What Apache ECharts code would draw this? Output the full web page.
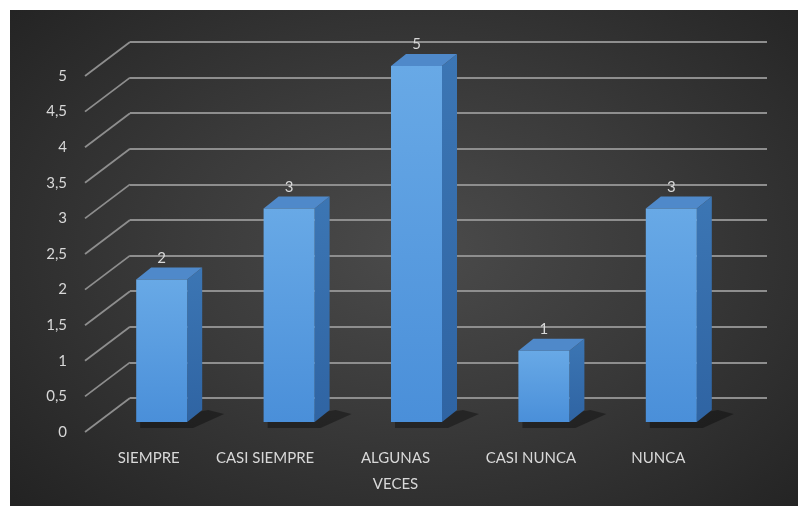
<!DOCTYPE html>
<html>
<head>
<meta charset="utf-8">
<script src="https://cdn.jsdelivr.net/npm/echarts@6/dist/echarts.min.js"></script>
<style>
html,body{margin:0;padding:0;background:#fff;width:798px;height:506px;overflow:hidden;}
#c{position:absolute;left:10px;top:10px;width:788px;height:496px;
background:radial-gradient(ellipse 70% 75% at 52% 48%, #4b4b4b 0%, #3a3a3a 45%, #232323 100%);}
</style>
</head>
<body>
<div id="c"></div>
<script>
const categories = ['SIEMPRE', 'CASI SIEMPRE', 'ALGUNAS\nVECES', 'CASI NUNCA', 'NUNCA'];
const values = [2, 3, 5, 1, 3];
const tickValues = [0, 0.5, 1, 1.5, 2, 2.5, 3, 3.5, 4, 4.5, 5];
const labelShift = [0, 22, 16, 0, 0];

const chart = echarts.init(document.getElementById('c'), null, {renderer: 'canvas'});
const FONT = 'Lato, "Open Sans", sans-serif';
const DX = -45, DY = 34;        // floor depth (back wall -> front edge)
const FX = -32, FY = 24;        // bar front plane offset from back wall
const SX = 15, SY = -12;        // bar depth
const BW = 51;                  // bar width

const frontGrad = new echarts.graphic.LinearGradient(0, 0, 0, 1, [
  {offset: 0, color: '#68a9e6'}, {offset: 1, color: '#4a8fd9'}]);
const sideGrad = new echarts.graphic.LinearGradient(0, 0, 0, 1, [
  {offset: 0, color: '#3c76b4'}, {offset: 1, color: '#2f64a3'}]);

chart.setOption({
  animation: false,
  grid: [
    {left: 120, top: 32, width: 637, height: 356},
    {left: 75, top: 66, width: 637, height: 356}
  ],
  xAxis: [
    {type: 'category', gridIndex: 0, data: categories, show: false},
    {type: 'category', gridIndex: 1,
     data: categories.map((c, i) => ({value: c, textStyle: {padding: [0, labelShift[i], 0, 0]}})),
     axisLine: {show: false}, axisTick: {show: false},
     axisLabel: {color: '#d8d8d8', fontSize: 15, fontFamily: FONT, margin: 13, lineHeight: 26, interval: 0}}
  ],
  yAxis: [
    {type: 'value', gridIndex: 0, min: 0, max: 5, interval: 0.5,
     axisLabel: {show: false}, axisLine: {show: false}, axisTick: {show: false},
     splitLine: {lineStyle: {color: '#8e8e8e', width: 1.8}}},
    {type: 'value', gridIndex: 1, min: 0, max: 5, interval: 0.5,
     axisLine: {show: false}, axisTick: {show: false}, splitLine: {show: false},
     axisLabel: {color: '#d8d8d8', fontSize: 15, fontFamily: FONT, margin: 18,
       formatter: v => String(v).replace('.', ',')}}
  ],
  series: [
    {
      type: 'custom', xAxisIndex: 0, yAxisIndex: 0, z: 1,
      data: tickValues.map(v => [0, v]),
      renderItem: function (params, api) {
        const y = api.coord([0, api.value(1)])[1];
        const x0 = params.coordSys.x;
        return {type: 'line', shape: {x1: x0, y1: y, x2: x0 + DX, y2: y + DY},
          style: {stroke: '#8e8e8e', lineWidth: 1.8}};
      }
    },
    {
      type: 'custom', xAxisIndex: 0, yAxisIndex: 0, z: 5,
      data: values.map((v, i) => [i, v]),
      renderItem: function (params, api) {
        const top = api.coord([api.value(0), api.value(1)]);
        const base = api.coord([api.value(0), 0]);
        const cx = top[0] + FX;
        const xl = cx - BW / 2, xr = cx + BW / 2;
        const yt = top[1] + FY, yb = base[1] + FY;
        return {type: 'group', children: [
          {type: 'polygon', shape: {points: [[xl + 4, yb], [xr + SX + 6, yb + SY], [xr + SX + 22, yb + SY + 4], [xr + 6, yb + 6], [xl + 4, yb + 6]]},
           style: {fill: 'rgba(0,0,0,0.35)'}},
          {type: 'polygon', shape: {points: [[xr, yt], [xr + SX, yt + SY], [xr + SX, yb + SY], [xr, yb]]},
           style: {fill: sideGrad}},
          {type: 'polygon', shape: {points: [[xl, yt], [xl + SX, yt + SY], [xr + SX, yt + SY], [xr, yt]]},
           style: {fill: '#4f89ca'}},
          {type: 'rect', shape: {x: xl, y: yt, width: BW, height: yb - yt},
           style: {fill: frontGrad}},
          {type: 'text', x: cx, y: yt - 14,
           style: {text: String(api.value(1)), fill: '#d8d8d8', font: '15px ' + FONT,
                   textAlign: 'center', textVerticalAlign: 'bottom'}}
        ]};
      }
    }
  ]
});
</script>
</body>
</html>
